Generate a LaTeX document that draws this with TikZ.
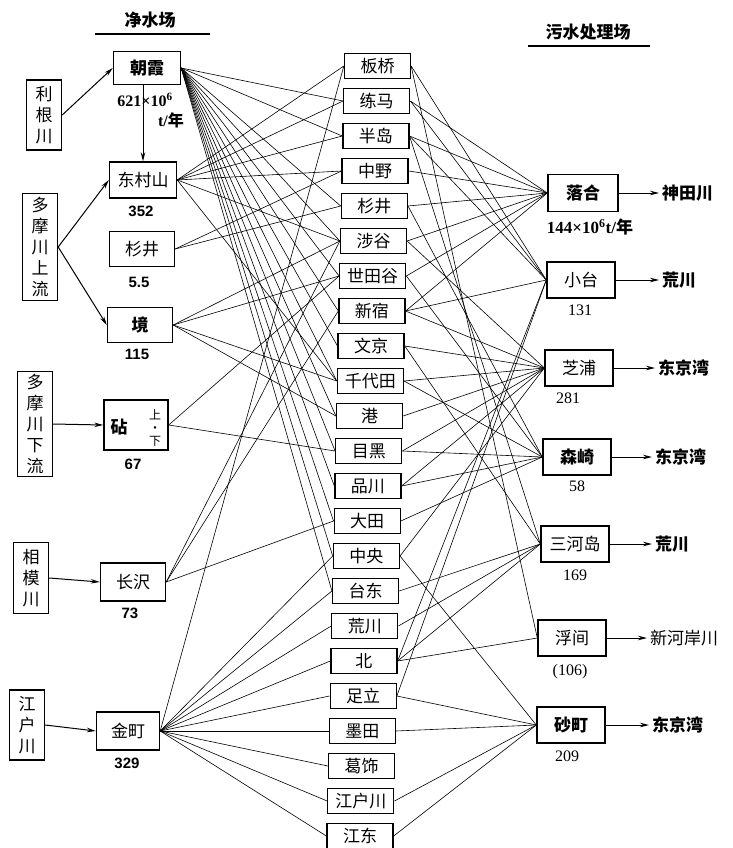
\documentclass[tikz,border=0pt]{standalone}
\usepackage{fontspec}
\setmainfont{Liberation Serif}
\newfontfamily\cjk{Noto Sans CJK SC}
\newfontfamily\numsans{Liberation Sans}
\usetikzlibrary{arrows.meta}
\tikzset{
  src/.style={draw, line width=1.4pt, minimum width=35pt, inner sep=0pt, align=center, font=\cjk\fontsize{17}{21}\selectfont},
  plant/.style={draw, line width=1.4pt, minimum width=65pt, minimum height=35pt, inner sep=0pt, font=\cjk\fontsize{17}{20}\selectfont},
  ward/.style={draw, line width=1.3pt, minimum width=66pt, minimum height=25pt, inner sep=0pt, font=\cjk\fontsize{17}{20}\selectfont},
  sew/.style={draw, line width=1.4pt, minimum width=68pt, minimum height=36pt, inner sep=0pt, font=\cjk\fontsize{17}{20}\selectfont},
  boldtxt/.style={font=\cjk\bfseries\fontsize{17}{20}\selectfont},
  num/.style={inner sep=0pt, font=\fontsize{16}{18}\selectfont},
  lnum/.style={inner sep=0pt, font=\numsans\bfseries\fontsize{15}{17}\selectfont},
  link/.style={line width=0.6pt},
  arr/.style={line width=1pt, -{Stealth[length=9pt,width=4.5pt]}},
  outlbl/.style={anchor=west, inner sep=0pt, font=\cjk\bfseries\fontsize{17}{20}\selectfont},
  head/.style={inner sep=0pt, font=\cjk\bfseries\fontsize{17}{20}\selectfont}
}
\begin{document}
\begin{tikzpicture}[x=1pt,y=-1pt]
\path[use as bounding box] (0,0) rectangle (732,848);

% headers
\node[head] (h1) at (150,20) {净水场};
\draw[line width=1.2pt] (95,34) -- (210,34);
\node[head] (h2) at (588,32) {污水处理场};
\draw[line width=1.2pt] (528,46) -- (650,46);

% sources
\node[src, minimum height=70pt] (r1) at (44,115) {利\\根\\川};
\node[src, minimum height=107pt] (r2) at (40,247) {多\\摩\\川\\上\\流};
\node[src, minimum height=105pt] (r3) at (35,424) {多\\摩\\川\\下\\流};
\node[src, minimum height=71pt] (r4) at (31,578) {相\\模\\川};
\node[src, minimum height=70pt] (r5) at (27,725) {江\\户\\川};

% purification plants
\node[plant, boldtxt, minimum width=67pt, minimum height=33pt] (pA) at (147,68) {朝霞};
\node[plant, minimum width=67pt, minimum height=36pt] (pH) at (143,180) {东村山};
\node[plant] (pS) at (142,249) {杉井};
\node[plant, boldtxt] (pK) at (140,325) {境};
\node[plant, minimum width=64pt, minimum height=50pt] (pT) at (136,425) {};
\node[inner sep=0pt, boldtxt] (pTa) at (119,427) {砧};
\node[inner sep=0pt, align=center, font=\cjk\fontsize{12}{13}\selectfont] (pTb) at (155,428) {上\\·\\下};
\node[plant, minimum height=38pt] (pN) at (133,582) {长沢};
\node[plant, minimum width=63pt, minimum height=38pt] (pM) at (128,731) {金町};

\node[num, font=\bfseries\fontsize{16}{18}\selectfont] (nA) at (145,100) {621×10\textsuperscript{6}};
\node[num, font=\bfseries\fontsize{16}{18}\selectfont] (nA2) at (171,120) {t/{\cjk\bfseries 年}};
\node[lnum] (nH) at (141,211) {352};
\node[lnum] (nS) at (139,282) {5.5};
\node[lnum] (nK) at (137,354) {115};
\node[lnum] (nT) at (133,464) {67};
\node[lnum] (nN) at (130,613) {73};
\node[lnum] (nM) at (127,763) {329};

% arrows sources -> plants
\draw[arr] (r1.east) -- (pA.west);
\draw[arr] (r2.east) -- (pH.west);
\draw[arr] (r2.east) -- (pK.west);
\draw[arr] (r3.east) -- (pT.west);
\draw[arr] (r4.east) -- (pN.west);
\draw[arr] (r5.east) -- (pM.west);
\draw[arr] ([xshift=-4pt]pA.south) -- (pH.north);

% wards
\foreach \n [count=\i from 0] in {板桥,练马,半岛,中野,杉井,涉谷,世田谷,新宿,文京,千代田,港,目黑,品川,大田,中央,台东,荒川,北,足立,墨田,葛饰,江户川,江东}
  \node[ward] (w\i) at ({377.5-0.795*\i},{66+35*\i}) {\n};

% sewage plants
\node[sew, boldtxt, minimum width=70pt, minimum height=37pt] (sO) at (583,193) {落合};
\node[sew] (sD) at (581,280) {小台};
\node[sew] (sS) at (579,368) {芝浦};
\node[sew, boldtxt] (sM) at (577,457) {森崎};
\node[sew] (sK) at (575,544) {三河岛};
\node[sew] (sU) at (572,638) {浮间};
\node[sew, boldtxt] (sN) at (571,725) {砂町};

\node[num, font=\bfseries\fontsize{17}{19}\selectfont] (mO) at (590,227) {144×10\textsuperscript{6}t/{\cjk\bfseries 年}};
\node[num] (mD) at (580,310) {131};
\node[num] (mS) at (568,398) {281};
\node[num] (mM) at (577,486) {58};
\node[num] (mK) at (575,575) {169};
\node[num] (mU) at (570,672) {(106)};
\node[num] (mN) at (567,756) {209};

% outputs
\node[outlbl] (oO) at (662,193) {神田川};
\node[outlbl] (oD) at (662,280) {荒川};
\node[outlbl] (oS) at (658,368) {东京湾};
\node[outlbl] (oM) at (655,457) {东京湾};
\node[outlbl] (oK) at (655,544) {荒川};
\node[outlbl, font=\cjk\fontsize{17}{20}\selectfont] (oU) at (650,638) {新河岸川};
\node[outlbl] (oN) at (652,725) {东京湾};
\foreach \s/\o in {sO/oO,sD/oD,sS/oS,sM/oM,sK/oK,sU/oU,sN/oN}
  \draw[arr, shorten >=3pt] (\s.east) -- (\o.west);

% plant -> ward links
\foreach \j in {1,2,4,5,6,7,8,9,10,11,12,13,14,15} \draw[link] (pA.east) -- (w\j.west);
\foreach \j in {0,1,2,3,5,9} \draw[link] (pH.east) -- (w\j.west);
\foreach \j in {3,4} \draw[link] (pS.east) -- (w\j.west);
\foreach \j in {5,6,9,10} \draw[link] (pK.east) -- (w\j.west);
\foreach \j in {6,11} \draw[link] (pT.east) -- (w\j.west);
\foreach \j in {5,7,13} \draw[link] (pN.east) -- (w\j.west);
\foreach \j in {0,14,15,16,17,18,19,20,21,22} \draw[link] (pM.east) -- (w\j.west);

% ward -> sewage links
\foreach \j in {1,2,3,4,5,6,7} \draw[link] (w\j.east) -- (sO.west);
\foreach \j in {0,1,2,7,17,18} \draw[link] (w\j.east) -- (sD.west);
\foreach \j in {5,7,8,9,10,11,12,14} \draw[link] (w\j.east) -- (sS.west);
\foreach \j in {4,6,9,11,12,13} \draw[link] (w\j.east) -- (sM.west);
\foreach \j in {2,8,15,16,17} \draw[link] (w\j.east) -- (sK.west);
\foreach \j in {0,17} \draw[link] (w\j.east) -- (sU.west);
\foreach \j in {14,18,19,21,22} \draw[link] (w\j.east) -- (sN.west);
\end{tikzpicture}
\end{document}
